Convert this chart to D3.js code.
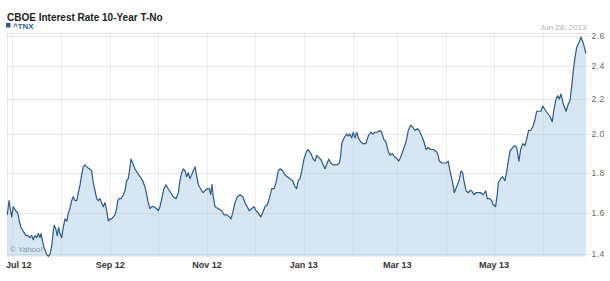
<!DOCTYPE html>
<html><head><meta charset="utf-8">
<script src="https://cdn.jsdelivr.net/npm/d3@7"></script>
<style>html,body{margin:0;padding:0;background:#fff;} svg{display:block;font-family:"Liberation Sans",Arial,sans-serif;}</style>
</head><body><svg id="chart" width="610" height="281"></svg>
<script>
// ---- data ----
const chartTitle = "CBOE Interest Rate 10-Year T-No";
const seriesName = "^TNX";
const lastDateLabel = "Jun 28, 2013";
const startDateStr = "2012-06-28";
const endDateStr = "2013-06-28";
// days since start date
const dayOffsets = [
  0, 1.1, 2.1, 2.8, 3.8, 5.3, 6.6, 7.6, 8.6, 10.1,
  11.8, 13.2, 14.3, 15.4, 16.4, 17.5, 18.5, 19.6, 20.6, 21.3,
  22.3, 23.3, 24.8, 25.9, 26.9, 28.0, 29.0, 29.6, 30.7, 31.5,
  32.4, 33.2, 34.3, 35.3, 36.4, 37.5, 38.5, 39.5, 40.6, 41.6,
  42.7, 43.8, 44.8, 45.9, 46.9, 47.9, 49.0, 50.1, 51.7, 53.2,
  54.2, 55.3, 56.4, 57.4, 58.5, 59.5, 60.5, 61.6, 62.7, 63.7,
  64.8, 65.8, 67.9, 69.0, 69.6, 70.6, 71.7, 73.2, 74.2, 75.3,
  76.3, 76.9, 78.0, 79.1, 80.5, 82.0, 83.7, 85.4, 86.8, 87.9,
  88.9, 90.0, 91.1, 92.5, 94.2, 95.2, 96.3, 97.4, 98.8, 100.1,
  101.5, 103.1, 104.7, 106.4, 107.9, 108.9, 110.0, 111.0, 112.1, 113.1,
  114.2, 115.2, 116.3, 117.3, 118.4, 119.5, 120.5, 122.6, 123.6, 124.7,
  126.1, 127.4, 128.3, 129.1, 129.9, 131.0, 133.1, 135.2, 136.7, 138.4,
  140.0, 141.1, 142.2, 143.6, 145.1, 146.8, 148.5, 149.9, 151.4, 152.6,
  154.1, 155.6, 156.9, 158.3, 159.8, 161.1, 162.5, 164.0, 165.2, 166.8,
  168.2, 169.5, 170.9, 172.0, 173.7, 175.1, 176.6, 178.3, 180.0, 181.4,
  182.5, 183.5, 184.6, 185.7, 187.1, 188.8, 189.8, 191.4, 193.0, 194.1,
  195.1, 196.1, 197.7, 199.3, 200.4, 201.8, 202.7, 204.0, 205.6, 207.8,
  209.4, 210.3, 210.9, 212.4, 214.1, 215.1, 216.1, 217.2, 218.2, 219.3,
  220.4, 221.4, 222.9, 224.5, 226.2, 227.7, 229.2, 230.5, 231.9, 233.4,
  235.1, 236.1, 237.6, 238.8, 240.3, 241.4, 242.8, 244.5, 246.0, 246.9,
  248.1, 249.8, 251.5, 252.9, 254.4, 255.7, 257.1, 258.6, 259.8, 261.4,
  262.8, 264.1, 265.5, 267.0, 268.7, 270.4, 271.4, 272.5, 274.0, 275.4,
  276.7, 278.1, 279.2, 280.9, 281.9, 283.4, 284.9, 286.2, 287.2, 288.0,
  289.3, 290.8, 291.8, 292.9, 294.3, 295.6, 297.1, 298.6, 300.2, 301.7,
  302.7, 304.4, 305.5, 306.5, 308.0, 309.0, 309.7, 311.2, 312.4, 313.9,
  314.9, 316.0, 317.0, 318.7, 320.2, 321.3, 322.7, 323.8, 325.1, 326.5,
  328.0, 328.8, 330.1, 331.4, 332.8, 333.9, 335.3, 336.6, 337.7, 339.1,
  340.6, 342.3, 343.7, 344.8, 346.1, 347.1, 348.2, 349.2, 350.7, 352.4,
  353.8, 354.9, 355.9, 357.0, 358.0, 359.1, 360.7, 361.8, 363.3, 365.0
];
const yields = [
  1.59, 1.66, 1.61, 1.58, 1.63, 1.61, 1.60, 1.56, 1.53, 1.51,
  1.49, 1.49, 1.48, 1.49, 1.47, 1.49, 1.48, 1.50, 1.48, 1.50,
  1.46, 1.43, 1.40, 1.39, 1.40, 1.44, 1.51, 1.54, 1.52, 1.49,
  1.53, 1.50, 1.48, 1.53, 1.57, 1.56, 1.60, 1.62, 1.66, 1.68,
  1.66, 1.66, 1.70, 1.74, 1.79, 1.83, 1.84, 1.83, 1.82, 1.81,
  1.75, 1.71, 1.67, 1.66, 1.67, 1.65, 1.63, 1.65, 1.61, 1.56,
  1.57, 1.57, 1.59, 1.62, 1.66, 1.67, 1.67, 1.69, 1.71, 1.76,
  1.77, 1.80, 1.87, 1.85, 1.82, 1.80, 1.78, 1.76, 1.73, 1.69,
  1.65, 1.62, 1.63, 1.63, 1.62, 1.61, 1.63, 1.67, 1.72, 1.74,
  1.72, 1.70, 1.68, 1.67, 1.70, 1.76, 1.80, 1.82, 1.81, 1.78,
  1.80, 1.77, 1.79, 1.81, 1.83, 1.78, 1.74, 1.71, 1.70, 1.71,
  1.72, 1.72, 1.69, 1.74, 1.68, 1.63, 1.62, 1.61, 1.59, 1.59,
  1.58, 1.57, 1.60, 1.65, 1.68, 1.69, 1.68, 1.65, 1.63, 1.61,
  1.62, 1.63, 1.61, 1.60, 1.58, 1.60, 1.63, 1.64, 1.67, 1.72,
  1.72, 1.75, 1.81, 1.82, 1.81, 1.79, 1.78, 1.77, 1.76, 1.73,
  1.72, 1.76, 1.77, 1.81, 1.87, 1.91, 1.92, 1.90, 1.87, 1.86,
  1.89, 1.88, 1.87, 1.84, 1.82, 1.85, 1.87, 1.85, 1.84, 1.84,
  1.85, 1.89, 1.95, 1.98, 2.00, 1.99, 2.00, 1.98, 2.01, 1.98,
  2.01, 1.98, 1.96, 1.95, 1.95, 1.99, 2.01, 2.00, 2.01, 2.01,
  2.02, 2.01, 1.97, 1.96, 1.91, 1.89, 1.90, 1.88, 1.87, 1.86,
  1.88, 1.92, 1.96, 2.02, 2.05, 2.04, 2.02, 2.03, 2.02, 1.99,
  1.96, 1.92, 1.93, 1.92, 1.92, 1.91, 1.90, 1.86, 1.85, 1.85,
  1.85, 1.86, 1.81, 1.75, 1.70, 1.73, 1.76, 1.81, 1.80, 1.76,
  1.71, 1.70, 1.71, 1.71, 1.69, 1.70, 1.70, 1.70, 1.69, 1.71,
  1.67, 1.67, 1.66, 1.64, 1.63, 1.69, 1.75, 1.77, 1.78, 1.76,
  1.80, 1.86, 1.91, 1.93, 1.94, 1.93, 1.86, 1.92, 1.95, 1.94,
  1.99, 2.02, 2.02, 2.04, 2.08, 2.13, 2.13, 2.13, 2.16, 2.14,
  2.12, 2.10, 2.07, 2.14, 2.20, 2.22, 2.20, 2.23, 2.17, 2.13,
  2.17, 2.19, 2.27, 2.37, 2.45, 2.52, 2.56, 2.59, 2.55, 2.48
];
const yTicks = [1.4, 1.6, 1.8, 2.0, 2.2, 2.4, 2.6];
const xTickLabels = ["Jul 12", "Sep 12", "Nov 12", "Jan 13", "Mar 13", "May 13"];

// ---- layout ----
const W = 610, H = 281;
const plotLeft = 7, plotRight = 586.5, plotTop = 33, plotBottom = 256.5;
const yTopPx = 35.7, yBottomPx = 254.3;
// relative vertical position of each y tick (chart's compressed scale)
const yTickFrac = [1, 0.8097, 0.6267, 0.4497, 0.2896, 0.1372, 0];

const parseDay = d3.timeParse("%Y-%m-%d");
const start = parseDay(startDateStr), end = parseDay(endDateStr);
const data = dayOffsets.map((d, i) => ({ date: new Date(start.getTime() + d * 864e5), v: yields[i] }));

const x = d3.scaleTime().domain([start, end]).range([7.3, 586]);
const y = d3.scaleLinear().domain(yTicks)
  .range(yTickFrac.map(f => yTopPx + f * (yBottomPx - yTopPx)));

const svg = d3.select("#chart");
svg.append("rect").attr("width", W).attr("height", H).attr("fill", "#fff");

// title + legend
svg.append("text").attr("x", 7).attr("y", 20.5).attr("font-size", 10).attr("font-weight", "bold")
  .attr("fill", "#222").text(chartTitle);
svg.append("rect").attr("x", 6).attr("y", 23).attr("width", 4.5).attr("height", 4.5).attr("fill", "#2a5a8c");
svg.append("text").attr("x", 13).attr("y", 29).attr("font-size", 8).attr("font-weight", "bold")
  .attr("fill", "#2b5f94").text(seriesName);
svg.append("text").attr("x", 586.5).attr("y", 29.5).attr("font-size", 8).attr("text-anchor", "end")
  .attr("fill", "#b0b0b0").text(lastDateLabel);

// area
const area = d3.area().x(d => x(d.date)).y0(plotBottom).y1(d => y(d.v));
svg.append("path").datum(data).attr("d", area).attr("fill", "#d6e6f2");

// grid
const gridColor = "#c8c8c8";
svg.append("line").attr("x1", plotLeft).attr("x2", 590).attr("y1", plotTop + 0.5).attr("y2", plotTop + 0.5)
  .attr("stroke", "#e2e2e2").attr("stroke-width", 1);
svg.append("g").selectAll("line").data(yTicks).join("line")
  .attr("x1", plotLeft).attr("x2", 590)
  .attr("y1", d => Math.round(y(d)) + 0.5).attr("y2", d => Math.round(y(d)) + 0.5)
  .attr("stroke", gridColor).attr("stroke-opacity", 0.45);
const months = d3.timeMonth.range(d3.timeMonth.ceil(start), end);
svg.append("g").selectAll("line").data(months).join("line")
  .attr("x1", d => Math.round(x(d)) + 0.5).attr("x2", d => Math.round(x(d)) + 0.5)
  .attr("y1", plotTop).attr("y2", plotBottom)
  .attr("stroke", gridColor).attr("stroke-opacity", 0.35);
svg.append("line").attr("x1", plotLeft + 0.5).attr("x2", plotLeft + 0.5).attr("y1", plotTop).attr("y2", plotBottom)
  .attr("stroke", gridColor).attr("stroke-opacity", 0.4);

// watermark
svg.append("text").attr("x", 10).attr("y", 251.5).attr("font-size", 8).attr("fill", "#8a96a2").text("\u00a9 Yahoo!");

// line
const line = d3.line().x(d => x(d.date)).y(d => y(d.v));
svg.append("path").datum(data).attr("d", line).attr("fill", "none")
  .attr("stroke", "#2c5a86").attr("stroke-width", 1.2).attr("stroke-linejoin", "round");

// y labels
svg.append("g").selectAll("text").data(yTicks).join("text")
  .attr("x", 591.5).attr("y", d => y(d)).attr("dy", "0.35em")
  .attr("font-size", 8.5).attr("fill", "#666").attr("letter-spacing", 0.4)
  .text(d => d.toFixed(1));

// x labels
const parseTick = d3.timeParse("%b %y");
svg.append("g").selectAll("text").data(xTickLabels).join("text")
  .attr("font-size", 9).attr("font-weight", "bold").attr("fill", "#333")
  .attr("y", 268).text(d => d)
  .each(function (d) {
    const cx = x(parseTick(d));
    const w = this.getComputedTextLength();
    const left = Math.max(6, cx - w / 2);
    d3.select(this).attr("x", left);
  });
</script></body></html>
